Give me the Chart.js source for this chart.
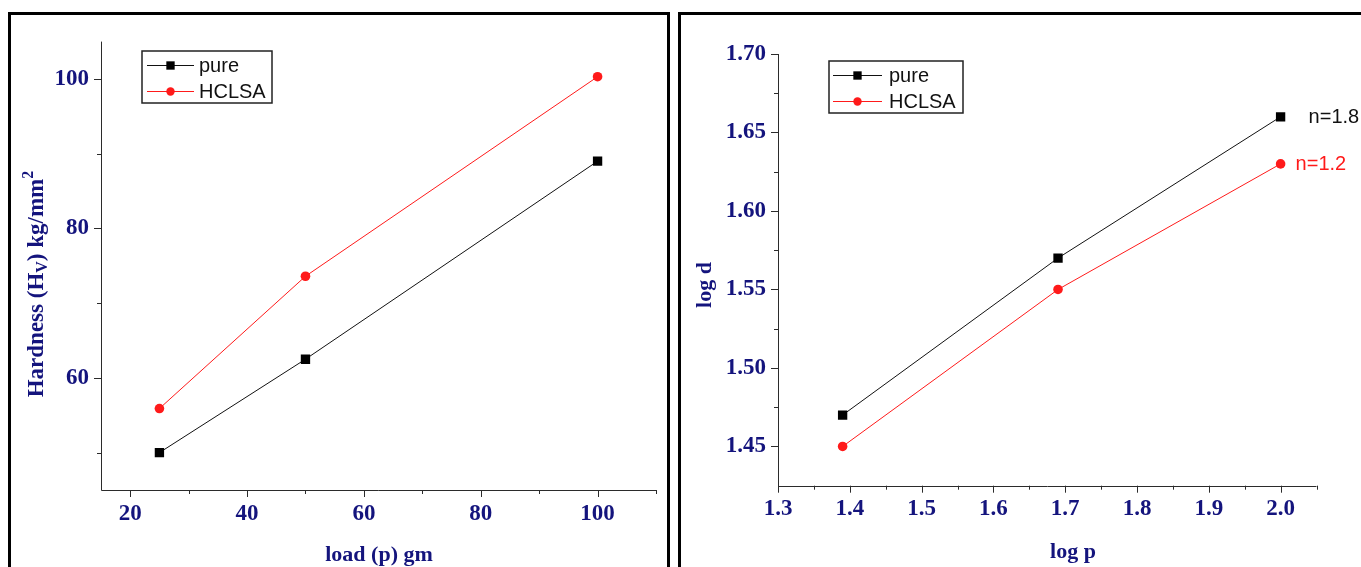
<!DOCTYPE html>
<html>
<head>
<meta charset="utf-8">
<script src="https://cdn.jsdelivr.net/npm/chart.js"></script>
<style>
  body { margin: 0; width: 1361px; height: 567px; overflow: hidden; background: #fff; position: relative; }
  .frame { position: absolute; top: 12px; height: 600px; border: 3px solid #000; box-sizing: border-box; }
  .box { position: absolute; top: 15px; height: 552px; }
</style>
</head>
<body>
<div class="frame" style="left:8px;width:662px"></div>
<div class="frame" style="left:678px;width:720px"></div>
<div class="box" style="left:11px;width:656px"><canvas id="hardness"></canvas></div>
<div class="box" style="left:681px;width:680px"><canvas id="logplot"></canvas></div>
<script>
// left panel: hardness vs load
const loads = [25, 50, 100]
const hvPure = [50.0, 62.5, 89.0]
const hvHclsa = [55.9, 73.6, 100.3]
const loadLabels = ["20", "40", "60", "80", "100"]
const loadMinor = [30, 50, 70, 90, 110]
const hvLabels = ["60", "80", "100"]
const hvMinor = [50, 70, 90]

// right panel: log d vs log p
const logP = [1.39, 1.69, 2.0]
const logDPure = [1.47, 1.57, 1.66]
const logDHclsa = [1.45, 1.55, 1.63]
const logPLabels = ["1.3", "1.4", "1.5", "1.6", "1.7", "1.8", "1.9", "2.0"]
const logPMinor = [1.35, 1.45, 1.55, 1.65, 1.75, 1.85, 1.95, 2.05]
const logDLabels = ["1.45", "1.50", "1.55", "1.60", "1.65", "1.70"]
const logDMinor = [1.475, 1.525, 1.575, 1.625, 1.675]
const slopes = ["n=1.8", "n=1.2"]

const seriesNames = ["pure", "HCLSA"]

const NAVY = "#14147d"
const RED = "#ff1a1a"
const SERIF = "Liberation Serif"
const SANS = "Liberation Sans"

const toPoints = (xs, ys) => xs.map((x, i) => ({x: x, y: ys[i]}))

const decor = {
    id: "decor",
    afterDraw(chart, args, opts) {
        const ctx = chart.ctx
        const {left, right, top, bottom} = chart.chartArea
        const xs = chart.scales.x, ys = chart.scales.y
        ctx.save()

        // axis lines and tick marks
        ctx.strokeStyle = "#2b2b2b"
        ctx.lineWidth = 1
        ctx.beginPath()
        ctx.moveTo(Math.round(left) + 0.5, top)
        ctx.lineTo(Math.round(left) + 0.5, Math.round(bottom) + 0.5)
        ctx.lineTo(right, Math.round(bottom) + 0.5)
        const markX = (list, len) => list.forEach(v => {
            const p = Math.round(xs.getPixelForValue(v)) + 0.5
            ctx.moveTo(p, bottom); ctx.lineTo(p, bottom + len)
        })
        const markY = (list, len) => list.forEach(v => {
            const p = Math.round(ys.getPixelForValue(v)) + 0.5
            ctx.moveTo(left, p); ctx.lineTo(left - len, p)
        })
        markX(opts.xMajor.map(Number), 7); markX(opts.xMinor, 4)
        markY(opts.yMajor.map(Number), 7); markY(opts.yMinor, 4)
        ctx.stroke()

        // axis titles
        ctx.fillStyle = NAVY
        ctx.font = "bold 22px " + SERIF
        ctx.textAlign = "center"
        ctx.textBaseline = "alphabetic"
        ctx.fillText(opts.xTitle, opts.xTitleAt[0], opts.xTitleAt[1])

        ctx.save()
        ctx.translate(opts.yTitleAt[0], opts.yTitleAt[1])
        ctx.rotate(-Math.PI / 2)
        ctx.textAlign = "left"
        let total = 0
        opts.yTitle.forEach(s => { ctx.font = "bold " + s.size + "px " + SERIF; total += ctx.measureText(s.text).width })
        let pos = -total / 2
        opts.yTitle.forEach(s => {
            ctx.font = "bold " + s.size + "px " + SERIF
            ctx.fillText(s.text, pos, s.dy)
            pos += ctx.measureText(s.text).width
        })
        ctx.restore()

        // legend box
        const lg = opts.legend
        ctx.strokeStyle = "#222"
        ctx.lineWidth = 1.5
        ctx.strokeRect(lg.x, lg.y, lg.w, lg.h)
        chart.data.datasets.forEach((ds, i) => {
            const y = lg.y + lg.rows[i]
            ctx.strokeStyle = ds.borderColor
            ctx.lineWidth = 1
            ctx.beginPath()
            ctx.moveTo(lg.x + lg.line[0], y + 0.5)
            ctx.lineTo(lg.x + lg.line[1], y + 0.5)
            ctx.stroke()
            ctx.fillStyle = ds.backgroundColor
            Chart.helpers.drawPoint(ctx, {
                pointStyle: ds.pointStyle, rotation: 0,
                radius: ds.pointStyle === "rect" ? 5.9 : 4.2, borderWidth: 0
            }, lg.x + (lg.line[0] + lg.line[1]) / 2, y + 0.5)
            ctx.fillStyle = "#111"
            ctx.font = "20px " + SANS
            ctx.textAlign = "left"
            ctx.textBaseline = "middle"
            ctx.fillText(ds.label, lg.x + lg.textX, y + 1)
        })

        // slope notes beside the last points
        ;(opts.notes || []).forEach(n => {
            const meta = chart.getDatasetMeta(n.dataset)
            const pt = meta.data[meta.data.length - 1]
            ctx.fillStyle = n.color
            ctx.font = "20px " + SANS
            ctx.textAlign = "left"
            ctx.textBaseline = "middle"
            ctx.fillText(n.text, pt.x + n.dx, pt.y + n.dy)
        })
        ctx.restore()
    }
}

const tickFont = {family: SERIF, weight: "bold", size: 23}

const makeAxis = (min, max, labels, fit, isX) => ({
    type: "linear",
    min: min,
    max: max,
    afterBuildTicks: scale => { scale.ticks = labels.map(l => ({value: Number(l)})) },
    afterFit: scale => { if (isX) scale.height = fit; else scale.width = fit },
    grid: {display: false, drawTicks: false},
    border: {display: false},
    ticks: {
        autoSkip: false,
        padding: isX ? 10 : 12,
        color: NAVY,
        font: tickFont,
        callback: (v, i) => labels[i]
    }
})

const makeSeries = (xs, pure, hclsa) => [{
    label: seriesNames[0],
    data: toPoints(xs, pure),
    borderColor: "#111",
    backgroundColor: "#000",
    borderWidth: 1,
    pointStyle: "rect",
    pointRadius: 6.6,
    pointBorderWidth: 0,
    tension: 0
}, {
    label: seriesNames[1],
    data: toPoints(xs, hclsa),
    borderColor: RED,
    backgroundColor: RED,
    borderWidth: 1,
    pointStyle: "circle",
    pointRadius: 4.8,
    pointBorderWidth: 0,
    tension: 0
}]

new Chart(document.getElementById("hardness"), {
    type: "line",
    data: {datasets: makeSeries(loads, hvPure, hvHclsa)},
    options: {
        responsive: true,
        maintainAspectRatio: false,
        animation: false,
        layout: {padding: {top: 26.6, right: 11, left: 0, bottom: 0}},
        scales: {
            x: makeAxis(15, 110, loadLabels, 77, true),
            y: makeAxis(45, 105, hvLabels, 90, false)
        },
        plugins: {
            legend: {display: false},
            tooltip: {enabled: false},
            decor: {
                xMajor: loadLabels, xMinor: loadMinor,
                yMajor: hvLabels, yMinor: hvMinor,
                xTitle: "load (p) gm", xTitleAt: [368, 546],
                yTitle: [
                    {text: "Hardness (H", size: 23, dy: 0},
                    {text: "V", size: 16, dy: 4},
                    {text: ") kg/mm", size: 23, dy: 0},
                    {text: "2", size: 16, dy: -10}
                ],
                yTitleAt: [32, 269],
                legend: {x: 131, y: 36, w: 130, h: 52, rows: [14, 40], line: [5, 52], textX: 57}
            }
        }
    },
    plugins: [decor]
})

new Chart(document.getElementById("logplot"), {
    type: "line",
    data: {datasets: makeSeries(logP, logDPure, logDHclsa)},
    options: {
        responsive: true,
        maintainAspectRatio: false,
        animation: false,
        layout: {padding: {top: 39, right: 44.5, left: 0, bottom: 0}},
        scales: {
            x: makeAxis(1.3, 2.05, logPLabels, 81.3, true),
            y: makeAxis(1.425, 1.70, logDLabels, 97, false)
        },
        plugins: {
            legend: {display: false},
            tooltip: {enabled: false},
            decor: {
                xMajor: logPLabels, xMinor: logPMinor,
                yMajor: logDLabels, yMinor: logDMinor,
                xTitle: "log p", xTitleAt: [392, 543],
                yTitle: [{text: "log d", size: 22, dy: 0}],
                yTitleAt: [30, 270],
                legend: {x: 148, y: 46, w: 134, h: 52, rows: [14, 40], line: [4, 53], textX: 60},
                notes: [
                    {dataset: 0, text: slopes[0], color: "#111", dx: 28, dy: 1},
                    {dataset: 1, text: slopes[1], color: RED, dx: 15, dy: 1}
                ]
            }
        }
    },
    plugins: [decor]
})
</script>
</body>
</html>
